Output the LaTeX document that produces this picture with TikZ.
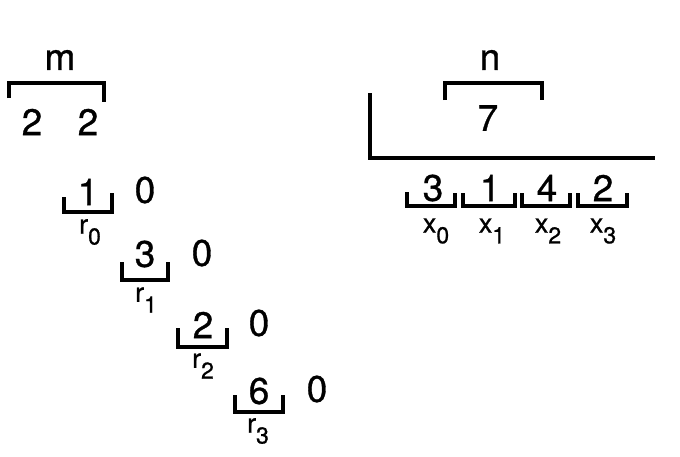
\documentclass[tikz,border=0pt]{standalone}
\usepackage{fontspec}
\setmainfont[FakeBold=0.8]{TeX Gyre Heros}
\newcommand{\lowsub}[1]{\raisebox{-0.4em}{\fontsize{23}{25}\selectfont #1}}
\begin{document}
\begin{tikzpicture}[x=1pt,y=-1pt,
  big/.style={font=\fontsize{37}{39}\selectfont, inner sep=0pt},
  lab/.style={font=\fontsize{27}{29}\selectfont, inner sep=0pt},
  brk/.style={line width=3.2pt, line join=miter}]
\useasboundingbox[fill=white] (0,0) rectangle (680,456);
% left part
\node[big] (m) at (60,60) {m};
\node[big] (a1) at (32,122) {2};
\node[big] (a2) at (88,122) {2};
\draw[brk] (9,98) |- (104,83) -- (104,102);
% remainders
\node[big] (d0) at (88,192) {1};
\node[big] (z0) at (145,190) {0};
\node[lab] (r0) at (90,232) {r\lowsub{0}};
\draw[brk] (64,197) |- (112,212) -- (112,193);
\node[big] (d1) at (145,254) {3};
\node[big] (z1) at (202,253) {0};
\node[lab] (r1) at (146,300) {r\lowsub{1}};
\draw[brk] (122,262) |- (168,280) -- (168,262);
\node[big] (d2) at (203,325) {2};
\node[big] (z2) at (259,323) {0};
\node[lab] (r2) at (203,366) {r\lowsub{2}};
\draw[brk] (178,328) |- (227,347) -- (227,328);
\node[big] (d3) at (259,391) {6};
\node[big] (z3) at (317,389) {0};
\node[lab] (r3) at (258,431) {r\lowsub{3}};
\draw[brk] (235,395) |- (283,412) -- (283,395);
% right part
\node[big] (n) at (490,60) {n};
\draw[brk] (445,100) |- (542,83) -- (542,100);
\node[big] (seven) at (488,118) {7};
\draw[brk] (370,93) |- (655,158);
\node[big] (x0d) at (433,188) {3};
\node[big] (x1d) at (490,188) {1};
\node[big] (x2d) at (547,188) {4};
\node[big] (x3d) at (603,188) {2};
\draw[brk] (407,192) |- (455,206) -- (455,193);
\draw[brk] (463,193) |- (515,206) -- (515,193);
\draw[brk] (522,193) |- (570,206) -- (570,193);
\draw[brk] (578,193) |- (627,206) -- (627,193);
\node[lab] (x0) at (436,231) {x\lowsub{0}};
\node[lab] (x1) at (492,231) {x\lowsub{1}};
\node[lab] (x2) at (548,231) {x\lowsub{2}};
\node[lab] (x3) at (603,231) {x\lowsub{3}};
\end{tikzpicture}
\end{document}
